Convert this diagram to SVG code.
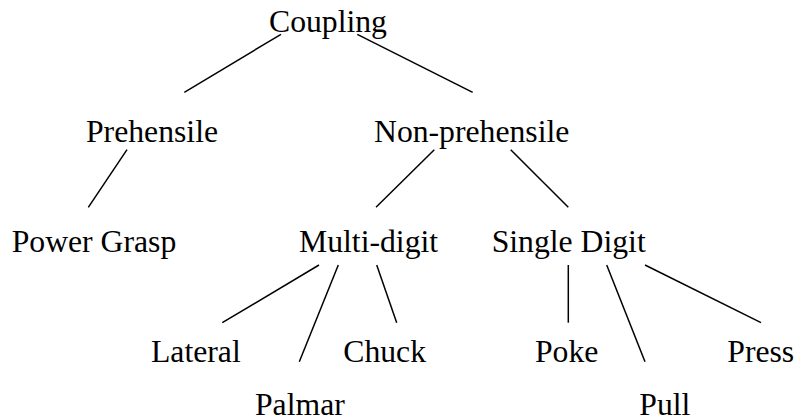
<svg xmlns="http://www.w3.org/2000/svg" width="795" height="420" viewBox="0 0 795 420">
<style>
text { font-family: "Liberation Serif", "Times New Roman", serif; font-size: 31.7px; fill: #000; }
.edge { stroke: #000; stroke-width: 1.5; fill: none; stroke-linecap: butt; }
</style>
<rect width="795" height="420" fill="#fff"/>
<g id="connectors">
<line class="edge" x1="281" y1="34.3" x2="184.3" y2="92.3"/>
<line class="edge" x1="357.3" y1="34.3" x2="472.7" y2="92.3"/>
<line class="edge" x1="127" y1="149.7" x2="88.3" y2="207.3"/>
<line class="edge" x1="434.3" y1="149.7" x2="376" y2="207.3"/>
<line class="edge" x1="510.7" y1="149.7" x2="568.3" y2="207.3"/>
<line class="edge" x1="319" y1="265" x2="222.3" y2="322.7"/>
<line class="edge" x1="338.3" y1="265" x2="299.3" y2="361.7"/>
<line class="edge" x1="376.7" y1="265" x2="396.7" y2="322.7"/>
<line class="edge" x1="568.3" y1="265" x2="568.3" y2="322.7"/>
<line class="edge" x1="606.7" y1="265" x2="645" y2="361.7"/>
<line class="edge" x1="645" y1="265" x2="761" y2="322.7"/>
</g>
<g id="coupling"><text x="269" y="31.7">Coupling</text></g>
<g id="prehensile"><text x="86" y="141.7">Prehensile</text></g>
<g id="non-prehensile"><text x="374" y="141.7">Non-prehensile</text></g>
<g id="power-grasp"><text x="11.7" y="251.7">Power Grasp</text></g>
<g id="multi-digit"><text x="299" y="251.7">Multi-digit</text></g>
<g id="single-digit"><text x="491.7" y="251.7">Single Digit</text></g>
<g id="lateral"><text x="151" y="361.7">Lateral</text></g>
<g id="chuck"><text x="343.3" y="361.7">Chuck</text></g>
<g id="palmar"><text x="255" y="415">Palmar</text></g>
<g id="poke"><text x="535" y="361.7">Poke</text></g>
<g id="pull"><text x="639.3" y="415">Pull</text></g>
<g id="press"><text x="727.3" y="361.7">Press</text></g>
</svg>
